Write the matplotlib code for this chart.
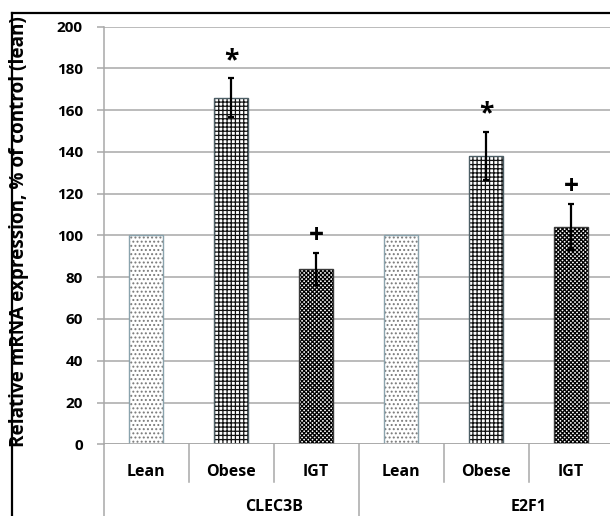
import matplotlib
matplotlib.use("Agg")
import matplotlib.pyplot as plt
from matplotlib.lines import Line2D

# expression relative to lean controls, per gene
genes = ["CLEC3B", "E2F1"]
groups = ["Lean", "Obese", "IGT"]
clec3b_mean = [100, 166, 84]
clec3b_err = [0, 9.3, 7.7]
e2f1_mean = [100, 138, 104]
e2f1_err = [0, 11.5, 11]
signif = ["", "*", "+"]

plt.rcParams["font.family"] = ["Open Sans", "DejaVu Sans"]
plt.rcParams["font.weight"] = "bold"
plt.rcParams["hatch.linewidth"] = 0.9

W, H = 610, 516
fig = plt.figure(figsize=(W / 100, H / 100), dpi=100)

# plot area in pixels
x0, x1 = 103.7, 613.7
y_top, y_bot = 26.5, 444.3
ax = fig.add_axes([x0 / W, 1 - y_bot / H, (x1 - x0) / W, (y_bot - y_top) / H])

means = clec3b_mean + e2f1_mean
errs = clec3b_err + e2f1_err
labels = groups * 2
marks = signif * 2
xs = list(range(len(means)))

hatches = ["....", "++++", "xxxxxxxx"] * 2
hatch_cols = ["#7a7a7a", "#111111", "#000000"] * 2
edge_cols = ["#8aa3ad", "#4d5f66", "#3a3a3a"] * 2

ax.set_xlim(-0.5, 5.5)
ax.set_ylim(0, 200)
ax.set_yticks(range(0, 201, 20))
ax.grid(axis="y", color="#a8a8a8", linewidth=1.1)
ax.set_axisbelow(True)

# hatch layer, then a clean outline on top
ax.bar(xs, means, width=0.4, color="white", hatch=hatches,
       edgecolor=hatch_cols, linewidth=0, zorder=2)
ax.bar(xs, means, width=0.4, fill=False, edgecolor=edge_cols,
       linewidth=1.0, zorder=3)

for x, m, e, s in zip(xs, means, errs, marks):
    if e > 0:
        ax.errorbar(x, m, yerr=e, fmt="none", ecolor="black",
                    elinewidth=1.6, capsize=2.5, capthick=1.6, zorder=4)
    if s:
        ax.text(x, m + e + 2, s, ha="center", va="bottom",
                fontsize=19, fontweight="bold", zorder=5)

for sp in ["top", "right", "bottom"]:
    ax.spines[sp].set_visible(False)
ax.spines["left"].set_color("#a8a8a8")
ax.spines["left"].set_linewidth(1.1)
ax.spines["left"].set_bounds(0, 200)

ax.tick_params(axis="y", length=5, width=1.1, color="#a8a8a8",
               labelsize=11, pad=10)
ax.set_xticks(xs)
ax.set_xticklabels(labels, fontsize=11.5, fontweight="bold")
ax.tick_params(axis="x", length=0, pad=14)

ax.axhline(0, color="#a8a8a8", linewidth=1.1, zorder=3)

# category separators below the axis
tr = ax.get_xaxis_transform()
for b in [-0.5, 0.5, 1.5, 2.5, 3.5, 4.5]:
    low = -0.2 if b in (-0.5, 2.5) else -0.09
    ax.add_line(Line2D([b, b], [0, low], transform=tr, color="#a8a8a8",
                       linewidth=1.1, clip_on=False))

for i, g in enumerate(genes):
    ax.text(1.5 + 3 * i, -0.15, g, transform=tr, ha="center", va="center",
            fontsize=11.5, fontweight="bold")

ax.set_ylabel("Relative mRNA expression, % of control (lean)",
              fontsize=13.6, fontweight="bold")
ax.yaxis.set_label_coords(-0.147, 0.508)

# outer frame lines
fig.add_artist(Line2D([11.7 / W, 11.7 / W], [0, 1 - 12.7 / H],
                      transform=fig.transFigure, color="black", linewidth=1.6))
fig.add_artist(Line2D([11.7 / W, 1], [1 - 12.7 / H, 1 - 12.7 / H],
                      transform=fig.transFigure, color="black", linewidth=1.6))

fig.savefig("out.png", dpi=100)
